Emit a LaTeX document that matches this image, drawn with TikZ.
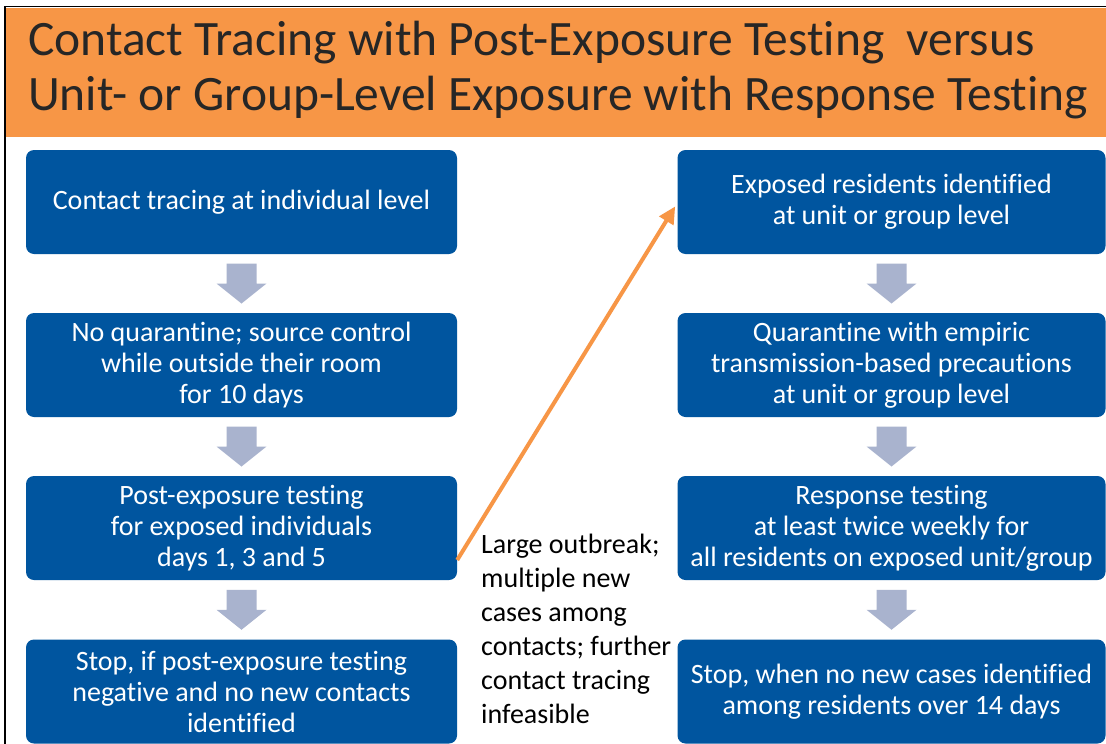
\documentclass[tikz,border=0pt]{standalone}
\usepackage{fontspec}
\setmainfont{Carlito}[RawFeature={-liga;-clig;-dlig;-calt;-rlig;-ccmp}]
\usetikzlibrary{calc,arrows.meta}
\definecolor{hdr}{HTML}{F79646}
\definecolor{boxblue}{HTML}{00559F}
\definecolor{arrgrey}{HTML}{A9B3CE}
\definecolor{hdrtext}{HTML}{262626}
\tikzset{
  flowbox/.style={draw=none, fill=boxblue, rounded corners=8pt, minimum width=431pt,
    minimum height=104pt, inner sep=0pt, align=center, text=white,
    font=\fontsize{28}{31}\selectfont},
  rbox/.style={flowbox, minimum width=428pt},
  jumparrow/.style={draw=hdr, line width=4pt, -{Triangle[length=17pt,width=16pt]}, shorten >=4pt},
}
\newcommand{\blockdown}[2]{%
  \fill[arrgrey] ($(#1.south)!.5!(#2.north)$) ++(-15,-20) -- ++(30,0) -- ++(0,20) -- ++(10,0)
    -- ++(-25,20) -- ++(-25,-20) -- ++(10,0) -- cycle;}
\begin{document}
\begin{tikzpicture}[x=1pt,y=-1pt]
\useasboundingbox (0,0) rectangle (1106,744);
\fill[white] (0,0) rectangle (1106,744);
% header
\fill[hdr] (6,8) rectangle (1106,137);
\draw[black, line width=1.5pt] (5,744) -- (5,6.5) -- (1106,6.5);
\node[anchor=north west, inner sep=0pt, align=left, text=hdrtext,
  font=\fontsize{49.5}{55}\selectfont] (title) at (28,21)
  {Contact Tracing with Post-Exposure Testing \ versus\\Unit- or Group-Level Exposure with Response Testing};
% left column
\node[flowbox] (l1) at (241.5,202) {Contact tracing at individual level};
\node[flowbox] (l2) at (241.5,365) {No quarantine; source control\\while outside their room\\for 10 days};
\node[flowbox] (l3) at (241.5,528) {Post-exposure testing\\for exposed individuals\\days 1, 3 and 5};
\node[flowbox] (l4) at (241.5,691.5) {Stop, if post-exposure testing\\negative and no new contacts\\identified};
% right column
\node[rbox] (r1) at (891.5,202) {Exposed residents identified\\at unit or group level};
\node[rbox] (r2) at (891.5,365) {Quarantine with empiric\\transmission-based precautions\\at unit or group level};
\node[rbox] (r3) at (891.5,528) {Response testing\\at least twice weekly for\\all residents on exposed unit/group};
\node[rbox] (r4) at (891.5,691.5) {Stop, when no new cases identified\\among residents over 14 days};
% block arrows
\blockdown{l1}{l2}
\blockdown{l2}{l3}
\blockdown{l3}{l4}
\blockdown{r1}{r2}
\blockdown{r2}{r3}
\blockdown{r3}{r4}
% escalation arrow
\draw[jumparrow] ([yshift=-32pt]l3.east) -- ([yshift=-1pt]r1.west);
\node[anchor=north west, inner sep=0pt, align=left, text=black,
  font=\fontsize{28}{34}\selectfont] (note) at (481,534)
  {Large outbreak;\\multiple new\\cases among\\contacts; further\\contact tracing\\infeasible};
\end{tikzpicture}
\end{document}
